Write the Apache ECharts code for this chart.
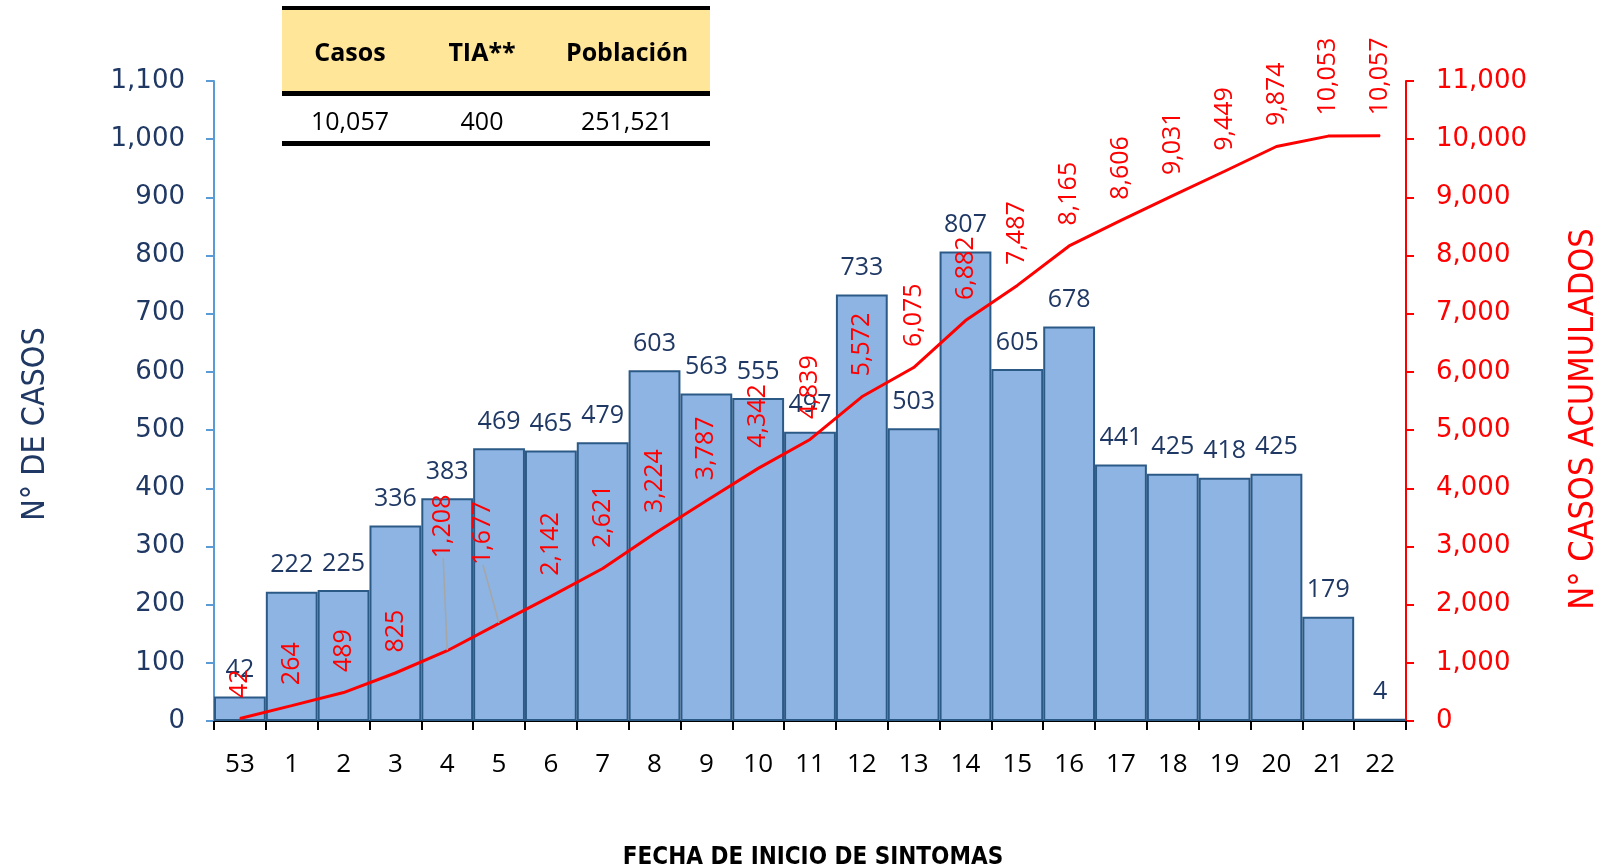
<!DOCTYPE html>
<html lang="es">
  <head>
    <meta charset="UTF-8" />
    <title>Casos por fecha de inicio de síntomas</title>
    <script src="https://cdn.jsdelivr.net/npm/echarts@6/dist/echarts.min.js"></script>
    <style>
      html, body { margin: 0; padding: 0; background: #fff; }
      #main { width: 1618px; height: 866px; }
    </style>
  </head>
  <body>
    <div id="main"></div>

    <script type="text/javascript">
      // semanas epidemiológicas
      var semanas = ["53", "1", "2", "3", "4", "5", "6", "7", "8", "9", "10", "11",
        "12", "13", "14", "15", "16", "17", "18", "19", "20", "21", "22"];
      // casos por semana
      var casos = [42, 222, 225, 336, 383, 469, 465, 479, 603, 563, 555, 497,
        733, 503, 807, 605, 678, 441, 425, 418, 425, 179, 4];
      // casos acumulados
      var acumulados = [42, 264, 489, 825, 1208, 1677, 2142, 2621, 3224, 3787, 4342, 4839,
        5572, 6075, 6882, 7487, 8165, 8606, 9031, 9449, 9874, 10053, 10057];
      // tabla resumen
      var tablaEncabezado = ["Casos", "TIA**", "Población"];
      var tablaValores = ["10,057", "400", "251,521"];

      var navy = "#1F3864";
      var rojo = "#FF0000";

      function miles(v) {
        return Number(v).toLocaleString("en-US");
      }

      // etiquetas movidas a mano (con línea guía)
      // ojo: el texto va girado 90°, dx/dy van en ejes del texto (dx = hacia arriba)
      var movidas = { 4: { dx: 72, dy: -4 }, 5: { dx: 38, dy: -16 } };

      var datosLinea = acumulados.map(function (v, i) {
        if (movidas[i]) {
          return { value: v, labelLine: { show: true, lineStyle: { color: "#A6A6A6", width: 1.5 } } };
        }
        return v;
      });

      var colX = [350, 482, 627];
      var graficos = [
        { type: "rect", shape: { x: 282, y: 6, width: 428, height: 4 }, style: { fill: "#000" } },
        { type: "rect", shape: { x: 282, y: 10, width: 428, height: 82 }, style: { fill: "#FFE699" } },
        { type: "rect", shape: { x: 282, y: 91, width: 428, height: 5 }, style: { fill: "#000" } },
        { type: "rect", shape: { x: 282, y: 141, width: 428, height: 5 }, style: { fill: "#000" } },
        // títulos de ejes
        {
          type: "text", x: 36, y: 424, rotation: Math.PI / 2,
          style: { text: "N° DE CASOS", fill: navy, font: "32px 'DejaVu Sans Condensed'", align: "center", verticalAlign: "middle" }
        },
        {
          type: "text", x: 1584, y: 419, rotation: Math.PI / 2,
          style: { text: "N° CASOS ACUMULADOS", fill: rojo, font: "34px 'DejaVu Sans Condensed'", align: "center", verticalAlign: "middle" }
        },
        {
          type: "text", x: 813, y: 858,
          style: { text: "FECHA DE INICIO DE SINTOMAS", fill: "#000", font: "bold 24px 'DejaVu Sans Condensed'", align: "center", verticalAlign: "middle" }
        }
      ];
      tablaEncabezado.forEach(function (t, i) {
        graficos.push({
          type: "text", x: colX[i], y: 54,
          style: { text: t, fill: "#000", font: "bold 25px 'Open Sans'", align: "center", verticalAlign: "middle" }
        });
      });
      tablaValores.forEach(function (t, i) {
        graficos.push({
          type: "text", x: colX[i], y: 123,
          style: { text: t, fill: "#000", font: "25px 'Open Sans'", align: "center", verticalAlign: "middle" }
        });
      });

      var myChart = echarts.init(document.getElementById("main"));

      var option = {
        animation: false,
        backgroundColor: "#fff",
        grid: { left: 214, right: 212, top: 81, bottom: 145, containLabel: false, outerBoundsMode: "none" },
        graphic: graficos,
        xAxis: {
          type: "category",
          data: semanas,
          boundaryGap: true,
          axisLine: { lineStyle: { color: "#000", width: 2 } },
          axisTick: { show: true, length: 9, lineStyle: { color: "#000", width: 2 } },
          axisLabel: { color: "#000", fontFamily: "Open Sans", fontSize: 26, margin: 31 }
        },
        yAxis: [
          {
            type: "value",
            min: 0,
            max: 1100,
            interval: 100,
            axisLine: { show: true, lineStyle: { color: "#5B9BD5", width: 2 } },
            axisTick: { show: true, length: 8, lineStyle: { color: "#5B9BD5", width: 2 } },
            splitLine: { show: false },
            axisLabel: { color: navy, fontFamily: "DejaVu Sans", fontSize: 26, margin: 29 }
          },
          {
            type: "value",
            min: 0,
            max: 11000,
            interval: 1000,
            position: "right",
            axisLine: { show: true, lineStyle: { color: rojo, width: 2 } },
            axisTick: { show: true, length: 8, lineStyle: { color: rojo, width: 2 } },
            splitLine: { show: false },
            axisLabel: { color: rojo, fontFamily: "DejaVu Sans", fontSize: 26, margin: 30 }
          }
        ],
        series: [
          {
            name: "Casos",
            type: "bar",
            data: casos,
            barCategoryGap: "0%",
            itemStyle: { color: "#8DB4E2", borderColor: "#2C5A87", borderWidth: 2 },
            label: {
              show: true,
              position: "top",
              distance: 14,
              color: navy,
              fontFamily: "Open Sans",
              fontSize: 25
            },
            z: 2
          },
          {
            name: "Acumulados",
            type: "line",
            yAxisIndex: 1,
            data: datosLinea,
            symbol: "circle",
            symbolSize: 1,
            itemStyle: { color: rojo },
            lineStyle: { color: rojo, width: 3 },
            label: {
              show: true,
              position: "top",
              distance: 20,
              rotate: 90,
              align: "left",
              verticalAlign: "middle",
              color: rojo,
              fontFamily: "Open Sans",
              fontSize: 25,
              formatter: function (p) { return miles(p.value); }
            },
            labelLayout: function (p) {
              var m = movidas[p.dataIndex];
              return m ? { dx: m.dx, dy: m.dy } : {};
            },
            z: 5
          }
        ]
      };

      myChart.setOption(option);
    </script>
  </body>
</html>
